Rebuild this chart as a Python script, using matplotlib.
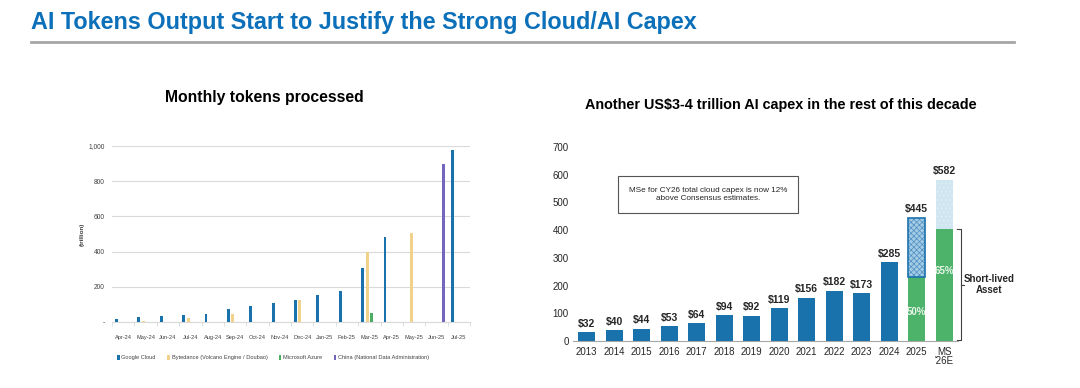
import matplotlib
matplotlib.use("Agg")
import matplotlib.pyplot as plt
from matplotlib.lines import Line2D
import numpy as np

plt.rcParams['font.family'] = ['Liberation Sans', 'DejaVu Sans']
plt.rcParams['hatch.linewidth'] = 0.5

# ---------------- data: left chart ----------------
months = ["Apr-24", "May-24", "Jun-24", "Jul-24", "Aug-24", "Sep-24", "Oct-24", "Nov-24",
          "Dec-24", "Jan-25", "Feb-25", "Mar-25", "Apr-25", "May-25", "Jun-25", "Jul-25"]
google_cloud = [15, 30, 36, 41, 47, 72, 89, 109, 125, 153, 177, 304, 481, None, None, 980]
bytedance = [None, 8, None, 20, None, 43, None, None, 125, None, None, 398, None, 508, None, None]
ms_azure = [None, None, None, None, None, None, None, None, None, None, None, 52, None, None, None, None]
china_nda = [None, None, None, None, None, None, None, None, None, None, None, None, None, None, 900, None]
series_names = ["Google Cloud", "Bytedance (Volcano Engine / Doubao)", "Microsoft Azure",
                "China (National Data Administration)"]
left_yticks = [0, 200, 400, 600, 800, 1000]
left_yticklabels = ["-", "200", "400", "600", "800", "1,000"]

# ---------------- data: right chart ----------------
years = ["2013", "2014", "2015", "2016", "2017", "2018", "2019", "2020", "2021", "2022",
         "2023", "2024", "2025", "MS\n'26E"]
capex = [32, 40, 44, 53, 64, 94, 92, 119, 156, 182, 173, 285, 445, 582]
short_lived = [None] * 12 + [230, 405]
short_lived_pct = ["50%", "65%"]
capex_labels = ["$" + str(v) for v in capex]

# ---------------- colours ----------------
c_blue = "#1a72ad"
c_tan = "#f0d28a"
c_green = "#4cae62"
c_purple = "#7466bd"
c_green_r = "#4db36a"
c_light = "#cfe6f0"

W, H = 1080, 388
fig = plt.figure(figsize=(W / 100, H / 100), dpi=100)
fig.patch.set_facecolor("white")

def ax_px(x0, y_top, x1, y_bot):
    return fig.add_axes([x0 / W, 1 - y_bot / H, (x1 - x0) / W, (y_bot - y_top) / H])

# header
fig.text(31 / W, 1 - 23 / H, "AI Tokens Output Start to Justify the Strong Cloud/AI Capex",
         color="#0b70b9", fontsize=16.8, fontweight="bold", va="center", ha="left")
fig.add_artist(Line2D([31 / W, 1014 / W], [1 - 42 / H, 1 - 42 / H], color="#a6a6a6", lw=2))

# ---------------- left chart ----------------
axL = ax_px(112, 146, 470, 322)
x = np.arange(len(months))
slot = 0.2
bw = 0.13
colors = [c_blue, c_tan, c_green, c_purple]
for k, (vals, col, name) in enumerate(zip([google_cloud, bytedance, ms_azure, china_nda], colors, series_names)):
    xs = [xi + (k - 1.5) * slot for xi, v in zip(x, vals) if v is not None]
    vs = [v for v in vals if v is not None]
    axL.bar(xs, vs, width=bw, color=col, label=name, zorder=3)
axL.set_xlim(-0.5, len(months) - 0.5)
axL.set_ylim(0, 1000)
axL.set_yticks(left_yticks)
axL.set_yticklabels(left_yticklabels, fontsize=4.8, color="#404040")
axL.set_xticks(x)
axL.set_xticklabels(months, fontsize=4.1, color="#404040")
for lbl in axL.get_xticklabels():
    lbl.set_verticalalignment("baseline")
axL.tick_params(axis="y", length=0, pad=5)
axL.tick_params(axis="x", length=0, pad=12)
axL.set_xticks(np.arange(-0.5, len(months)), minor=True)
axL.tick_params(axis="x", which="minor", length=3, color="#d9d9d9")
axL.grid(axis="y", color="#d9d9d9", lw=0.8, zorder=0)
for s in ["top", "right", "left"]:
    axL.spines[s].set_visible(False)
axL.spines["bottom"].set_color("#d9d9d9")
axL.set_ylabel("(trillion)", fontsize=4.5, fontweight="bold", color="#404040", labelpad=3)
axL.set_title("Monthly tokens processed", fontsize=11.3, fontweight="bold", pad=32, x=0.425)
leg = axL.legend(loc="upper center", bbox_to_anchor=(0.45, -0.16), ncol=4, frameon=False,
                 fontsize=4.1, handlelength=0.45, handleheight=0.8, handletextpad=0.3,
                 columnspacing=2.0)
for t in leg.get_texts():
    t.set_color("#404040")

# ---------------- right chart ----------------
axR = ax_px(573, 147, 958, 341)
xr = np.arange(len(years))
bwr = 0.62
for i, (v, sl) in enumerate(zip(capex, short_lived)):
    if sl is None:
        axR.bar(i, v, width=bwr, color=c_blue, zorder=3)
    else:
        axR.bar(i, sl, width=bwr, color=c_green_r, zorder=3)
        if i == len(capex) - 1:
            axR.bar(i, v - sl, bottom=sl, width=bwr, color=c_light, edgecolor="#e2f0f6",
                    hatch="....", lw=0, zorder=3)
        else:
            axR.bar(i, v - sl, bottom=sl, width=bwr, color="#a4cbe4", edgecolor="#4d8fc4",
                    hatch="xxxxxx", lw=0, zorder=3)
            axR.bar(i, v - sl, bottom=sl, width=bwr, fill=False, edgecolor=c_blue, lw=1.2, zorder=4)
for i, (v, lab) in enumerate(zip(capex, capex_labels)):
    axR.text(i, v + 12, lab, ha="center", va="bottom", fontsize=7.5, fontweight="bold", color="#262626")
# percentage labels inside green segments
pct_idx = [i for i, s in enumerate(short_lived) if s is not None]
for i, p in zip(pct_idx, short_lived_pct):
    axR.text(i, short_lived[i] * 0.62 if i == pct_idx[-1] else short_lived[i] * 0.46, p,
             ha="center", va="center", fontsize=7, fontweight="bold", color="#e8f5e9")
axR.set_xlim(-0.5, len(years) - 0.5)
axR.set_ylim(0, 700)
axR.set_yticks(np.arange(0, 701, 100))
axR.tick_params(axis="y", labelsize=7, length=0, pad=3, labelcolor="#262626")
axR.set_xticks(xr)
axR.set_xticklabels(years, fontsize=7, color="#262626", linespacing=0.9)
axR.tick_params(axis="x", length=0, pad=4)
for s in ["top", "right", "left"]:
    axR.spines[s].set_visible(False)
axR.spines["bottom"].set_color("#a6a6a6")
axR.set_title("Another US$3-4 trillion AI capex in the rest of this decade", fontsize=10.4,
              fontweight="bold", pad=27, x=0.54)

# annotation box
axR.text(4.4, 528, "MSe for CY26 total cloud capex is now 12%\nabove Consensus estimates.",
         ha="center", va="center", fontsize=5.9, color="#262626", linespacing=1.3,
         bbox=dict(boxstyle="square,pad=1.3", fc="white", ec="#555555", lw=0.8))

# bracket for short-lived asset
bx = 13.6
top_v = short_lived[-1]
axR.plot([bx - 0.12, bx, bx, bx - 0.12], [top_v, top_v, 3, 3], color="#404040", lw=0.8, clip_on=False)
axR.plot([bx, bx + 0.1], [top_v / 2, top_v / 2], color="#404040", lw=0.8, clip_on=False)
axR.text(bx + 1.02, top_v / 2, "Short-lived\nAsset", ha="center", va="center", fontsize=7,
         fontweight="bold", color="#262626", linespacing=1.1, clip_on=False)

fig.savefig("out.png", dpi=100, facecolor="white")
